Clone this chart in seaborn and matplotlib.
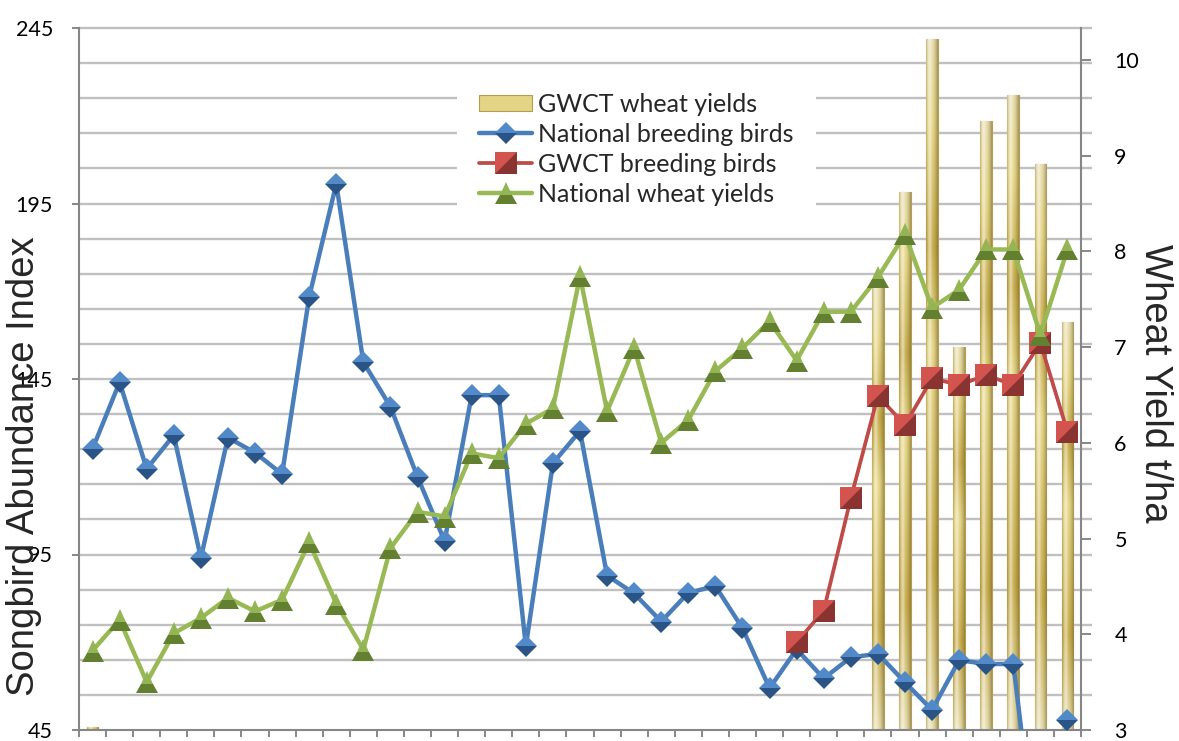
import numpy as np
import pandas as pd
import matplotlib
matplotlib.use("Agg")
import matplotlib.pyplot as plt
import matplotlib.transforms as mtransforms
from matplotlib.collections import LineCollection
from matplotlib.colors import LinearSegmentedColormap, to_rgb
from matplotlib.legend_handler import HandlerTuple
import seaborn as sns

# ---- data -------------------------------------------------------------
years = list(range(1966, 2003))          # 37 seasons
nan = np.nan

national_birds = [125.1, 144.1, 119.4, 129.0, 94.0, 128.3, 124.0, 117.9, 168.4,
                  200.6, 149.8, 137.1, 117.1, 98.8, 140.4, 140.4, 68.9, 121.0,
                  130.2, 89.0, 83.9, 75.9, 84.1, 86.0, 74.0, 56.9, 68.0, 59.7,
                  65.7, 66.7, 58.6, 50.7, 64.9, 63.8, 63.8, 0.0, 47.8]

gwct_birds = [nan] * 26 + [70.0, 79.0, 111.0, 140.2, 131.9, 145.2, 143.3,
                           146.1, 143.3, 155.3, 130.0]

national_wheat = [3.83, 4.15, 3.50, 4.01, 4.17, 4.38, 4.24, 4.36, 4.96, 4.32,
                  3.84, 4.90, 5.28, 5.23, 5.89, 5.84, 6.20, 6.36, 7.74, 6.33,
                  6.99, 6.00, 6.24, 6.75, 6.99, 7.27, 6.86, 7.37, 7.37, 7.73,
                  8.18, 7.41, 7.60, 8.02, 8.02, 7.13, 8.02]

gwct_wheat = [3.03] + [nan] * 28 + [7.65, 8.62, 10.22, 7.00, 9.36, 9.63,
                                    8.91, 7.26]

left_ticks = [45, 95, 145, 195, 245]
right_ticks = [3, 4, 5, 6, 7, 8, 9, 10]

# ---- style ------------------------------------------------------------
sns.set_style("white")
plt.rcParams["font.family"] = ["Lato", "DejaVu Sans"]

AXIS_GREY = "#868686"
GRID_GREY = "#c0c0c0"
BLUE, BLUE_HI, BLUE_LO = "#4a7ebb", "#5289c9", "#2a5486"
RED, RED_HI, RED_LO = "#be4b48", "#d3544f", "#8a3432"
GREEN, GREEN_HI, GREEN_LO = "#98b954", "#93b553", "#62802f"

W, H = 1179, 741
fig = plt.figure(figsize=(W / 100, H / 100), dpi=100)
ax = fig.add_axes([79 / W, 1 - 730 / H, (1081 - 79) / W, (730 - 28) / H])
ax_back = ax.twinx()     # right scale: wheat bars + grid, drawn underneath
ax_front = ax.twinx()    # right scale: national wheat line, drawn on top
ax_back.set_zorder(0)
ax.set_zorder(1)
ax_front.set_zorder(2)
ax.patch.set_visible(False)
ax_front.patch.set_visible(False)
ax_back.patch.set_visible(True)
ax_back.patch.set_facecolor("white")

n = len(years)
pos = np.arange(n)
df = pd.DataFrame({
    "pos": pos,
    "year": [str(y) for y in years],
    "national_birds": national_birds,
    "gwct_birds": gwct_birds,
    "national_wheat": national_wheat,
    "gwct_wheat": gwct_wheat,
})

LEFT_LIM = (45, 245)
RIGHT_LIM = (3, 10.334)

# ---- GWCT wheat yields: cylinder-shaded bars ---------------------------
bar_df = df.dropna(subset=["gwct_wheat"])
sns.barplot(data=bar_df, x="year", y="gwct_wheat", order=df["year"].tolist(),
            width=0.43, color="#e4d485", saturation=1, ax=ax_back,
            edgecolor="#b39d4f", linewidth=0.8, label="GWCT wheat yields",
            zorder=2)


def gold_texture(n_rows=300, n_cols=48):
    t = np.linspace(0, 1, n_rows)
    u = np.linspace(0, 1, n_cols)[None, :]
    stops = [0, .12, .30, .45, .77, 1.0]
    cols = ["#e6dcac", "#e6d78a", "#c7ac4c", "#e6d78a", "#c7ac4c", "#e6dcac"]
    cmap = LinearSegmentedColormap.from_list("gold", list(zip(stops, cols)))
    base = np.repeat(cmap(t)[:, None, :3], n_cols, axis=1)
    hi = (0.5 * np.exp(-((u - 0.32) / 0.16) ** 2))[..., None]
    lo = (0.55 * np.clip((u - 0.55) / 0.45, 0, 1) ** 1.6
          + 0.3 * np.clip((0.15 - u) / 0.15, 0, 1))[..., None]
    img = base * (1 - hi) + hi
    img = img * (1 - lo) + np.array(to_rgb("#6b5a1e")) * lo
    return img


tex = gold_texture()
for bar in list(ax_back.patches):
    x0, w = bar.get_x(), bar.get_width()
    top = bar.get_y() + bar.get_height()
    if not np.isfinite(top) or top <= RIGHT_LIM[0]:
        continue
    im = ax_back.imshow(tex, extent=[x0, x0 + w, RIGHT_LIM[0], top],
                        aspect="auto", origin="upper", zorder=2.1,
                        interpolation="bilinear")
    im.set_clip_path(bar)

# horizontal grid of the left (abundance) scale, kept beneath the bars
grid_vals = np.arange(55, 246, 10)
blend = mtransforms.blended_transform_factory(ax_back.transAxes, ax.transData)
segs = [[(0, v), (1.011, v)] for v in grid_vals]
grid = LineCollection(segs, colors=GRID_GREY, linewidths=1.7,
                      transform=blend, zorder=1, clip_on=False)
ax_back.add_collection(grid, autolim=False)

# ---- bird lines on the left scale -------------------------------------
sns.lineplot(data=df, x="pos", y="national_birds", ax=ax, color=BLUE,
             linewidth=3.2, marker="D", markersize=11.5, fillstyle="top",
             markerfacecolor=BLUE_HI, markerfacecoloralt=BLUE_LO,
             markeredgewidth=0, markeredgecolor=BLUE_LO,
             label="National breeding birds", zorder=3)

gw = df.dropna(subset=["gwct_birds"])
sns.lineplot(data=gw, x="pos", y="gwct_birds", ax=ax, color=RED,
             linewidth=2.7, marker="s", markersize=15.5,
             markerfacecolor=RED_LO, markeredgewidth=0,
             markeredgecolor=RED_LO, label="GWCT breeding birds", zorder=4)
# lit upper-left facet of the square markers
facet = [(-1, -1), (-1, 1), (1, 1)]
red_facet, = ax.plot(gw["pos"], gw["gwct_birds"], linestyle="none",
                     marker=facet, markersize=15.5, color=RED_HI,
                     markeredgewidth=0, zorder=4.1)

# ---- national wheat line on the right scale ----------------------------
sns.lineplot(data=df, x="pos", y="national_wheat", ax=ax_front, color=GREEN,
             linewidth=3.2, marker="^", markersize=15.5, fillstyle="top",
             markerfacecolor=GREEN_HI, markerfacecoloralt=GREEN_LO,
             markeredgewidth=0, markeredgecolor=GREEN_LO,
             label="National wheat yields", zorder=5)

# ---- axes ------------------------------------------------------------
for a in (ax, ax_back, ax_front):
    a.set_xlabel("")
    a.set_ylabel("")
    for s in a.spines.values():
        s.set_visible(False)
    a.grid(False)

ax.set_xlim(-0.5, n - 0.5)
ax.set_ylim(*LEFT_LIM)
ax_back.set_ylim(*RIGHT_LIM)
ax_front.set_ylim(*RIGHT_LIM)

ax.spines["left"].set_visible(True)
ax.spines["bottom"].set_visible(True)
ax_back.spines["right"].set_visible(True)
for s in (ax.spines["left"], ax.spines["bottom"], ax_back.spines["right"]):
    s.set_color(AXIS_GREY)
    s.set_linewidth(1.5)

ax.set_xticks(np.arange(-0.5, n, 1.0))
ax.tick_params(axis="x", which="major", bottom=True, labelbottom=False,
               direction="out", length=5, width=1.4, color=AXIS_GREY)
ax.set_yticks(left_ticks)
ax.set_yticklabels([str(t) for t in left_ticks])
ax.tick_params(axis="y", left=True, right=False, direction="out", length=5.3,
               width=1.4, color=AXIS_GREY, labelsize=15.5, pad=13.5,
               labelcolor="black")

ax_back.set_yticks(right_ticks)
ax_back.set_yticklabels([str(t) for t in right_ticks])
ax_back.tick_params(axis="y", right=True, left=False, direction="out",
                    length=7, width=1.4, color=AXIS_GREY, labelsize=15.5,
                    pad=17, labelcolor="black")
ax_back.tick_params(axis="x", bottom=False, labelbottom=False)
ax_front.tick_params(axis="both", which="both", left=False, right=False,
                     bottom=False, labelleft=False, labelright=False,
                     labelbottom=False)

# ---- axis titles -------------------------------------------------------
fig.text(24 / W, 1 - 466 / H, "Songbird Abundance Index", rotation=90,
         ha="center", va="center", fontsize=27.5, family="Liberation Sans")
fig.text(1155 / W, 1 - 383 / H, "Wheat Yield t/ha", rotation=270,
         ha="center", va="center", fontsize=27.5, family="Liberation Sans")

# ---- legend ------------------------------------------------------------
hb, lb = ax_back.get_legend_handles_labels()
hl, ll = ax.get_legend_handles_labels()
hf, lf = ax_front.get_legend_handles_labels()
for a in (ax, ax_back, ax_front):
    if a.get_legend() is not None:
        a.get_legend().remove()
handles = [hb[0], hl[0], (hl[1], red_facet), hf[0]]
labels = [lb[0], ll[0], ll[1], lf[0]]
ax_front.legend(handles, labels, loc="upper left",
                bbox_to_anchor=(0.377, 0.940), borderaxespad=0,
                frameon=True, fancybox=False, framealpha=1,
                facecolor="white", edgecolor="none", fontsize=18,
                handlelength=2.1, handleheight=0.6, handletextpad=0.25,
                labelspacing=0.28, borderpad=0.9,
                handler_map={tuple: HandlerTuple(ndivide=1)})

fig.savefig("out.png", dpi=100)
